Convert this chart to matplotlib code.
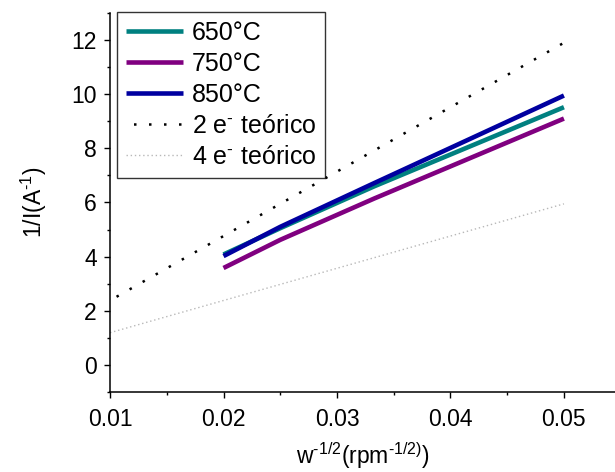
import matplotlib
matplotlib.use("Agg")
import matplotlib.pyplot as plt
from matplotlib.ticker import MultipleLocator

plt.rcParams['font.family'] = ['Liberation Sans', 'DejaVu Sans']
plt.rcParams['mathtext.default'] = 'regular'

# data
x_exp = [0.02, 0.025, 0.0333, 0.05]
y_650 = [4.08, 5.05, 6.60, 9.52]
y_750 = [3.58, 4.62, 6.15, 9.10]
y_850 = [4.02, 5.10, 6.72, 9.95]
x_theo = [0.01, 0.05]
y_2e = [2.38, 11.90]
y_4e = [1.19, 5.95]

labels = ['650°C', '750°C', '850°C', '2 e$^{\u2010}$ teórico', '4 e$^{\u2010}$ teórico']
xticks = [0.01, 0.02, 0.03, 0.04, 0.05]
xticklabels = ['0.01', '0.02', '0.03', '0.04', '0.05']

fig = plt.figure(figsize=(6.15, 4.72), dpi=100)
ax = fig.add_axes([0.1789, 0.1695, 0.8211, 0.803])

ax.plot(x_exp, y_650, color='#008080', lw=3.3, label=labels[0], solid_capstyle='butt')
ax.plot(x_exp, y_750, color='#800080', lw=3.3, label=labels[1], solid_capstyle='butt')
ax.plot(x_exp, y_850, color='#0000a0', lw=3.3, label=labels[2], solid_capstyle='butt')
ax.plot(x_theo, y_2e, color='black', lw=1.8, linestyle=(3, (1, 5)), label=labels[3])
ax.plot(x_theo, y_4e, color='#b8b8b8', lw=1.0, linestyle=(0, (1, 2)), label=labels[4])

ax.set_xlim(0.01, 0.0545)
ax.set_ylim(-1, 13)
ax.xaxis.set_minor_locator(MultipleLocator(0.005))
ax.yaxis.set_major_locator(MultipleLocator(2))
ax.yaxis.set_minor_locator(MultipleLocator(1))
ax.set_xticks(xticks)
ax.set_xticklabels(xticklabels)

for s in ['top', 'right']:
    ax.spines[s].set_visible(False)
for s in ['left', 'bottom']:
    ax.spines[s].set_linewidth(1.1)

ax.tick_params(which='major', direction='out', length=4.5, width=1.0, labelsize=16.5, pad=5)
ax.tick_params(which='minor', direction='out', length=2.5, width=1.0)
ax.tick_params(axis='x', which='major', pad=7)

ax.set_xlabel('w$^{\u20101/2}$(rpm$^{\u20101/2)}$)', fontsize=16.5, labelpad=7)
ax.set_ylabel('1/I(A$^{\u20101}$)', fontsize=16.5, labelpad=16)

leg = ax.legend(loc='upper left', bbox_to_anchor=(117/615, 1 - 12/472),
                bbox_transform=fig.transFigure, fontsize=18, frameon=True,
                fancybox=False, shadow=False, handlelength=2.3, handletextpad=0.33,
                labelspacing=0.28, borderpad=0.35, borderaxespad=0)
leg.get_frame().set_edgecolor('black')
leg.get_frame().set_linewidth(1.0)

fig.savefig('out.png', dpi=100)
